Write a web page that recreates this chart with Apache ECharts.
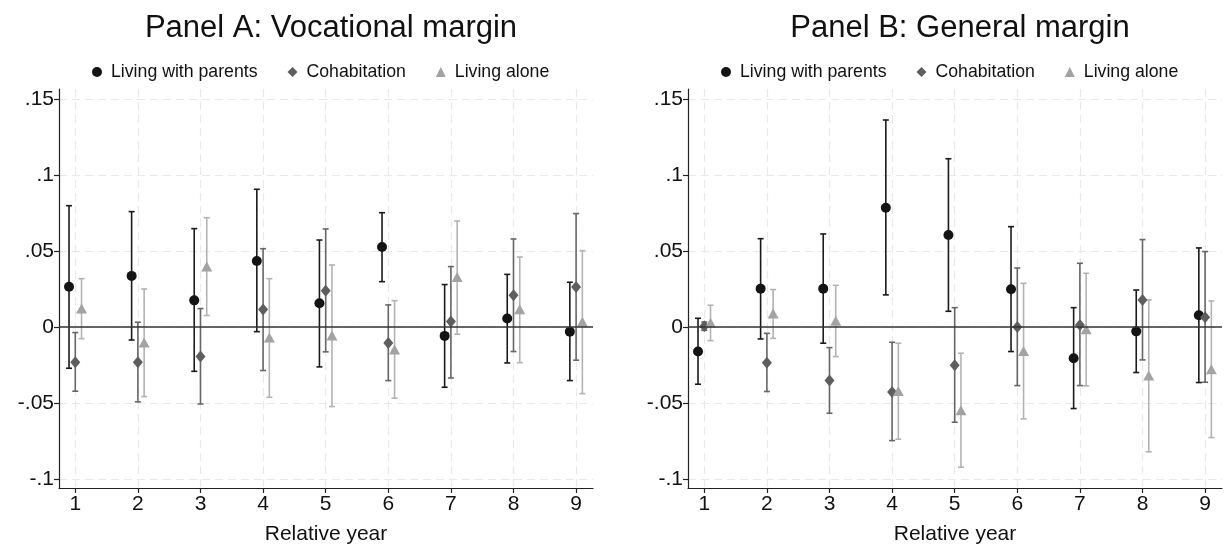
<!DOCTYPE html>
<html>
<head>
<meta charset="utf-8">
<script src="https://cdn.jsdelivr.net/npm/echarts@6/dist/echarts.min.js"></script>
<style>
  html, body { margin: 0; padding: 0; background: #ffffff; }
  #chart { width: 1224px; height: 551px; }
</style>
</head>
<body>
<div id="chart"></div>
<script>
// Event-study estimates with 95% confidence intervals, by living arrangement.
const years = [1, 2, 3, 4, 5, 6, 7, 8, 9];
const groups = ['Living with parents', 'Cohabitation', 'Living alone'];
const panelTitles = ['Panel A: Vocational margin', 'Panel B: General margin'];
const yTicks = [-0.1, -0.05, 0, 0.05, 0.1, 0.15];

// Panel A: vocational margin
const vocParentsEst = [0.0265, 0.0336, 0.0175, 0.0434, 0.0156, 0.0526, -0.0059, 0.0055, -0.0031];
const vocParentsLo  = [-0.0272, -0.0086, -0.0292, -0.0031, -0.0263, 0.0298, -0.0397, -0.0237, -0.0353];
const vocParentsHi  = [0.0798, 0.0759, 0.0647, 0.0906, 0.0572, 0.0752, 0.0279, 0.0346, 0.0294];
const vocCohabEst   = [-0.0232, -0.0232, -0.0195, 0.0114, 0.0239, -0.0105, 0.0035, 0.0208, 0.0263];
const vocCohabLo    = [-0.0423, -0.0493, -0.0507, -0.0287, -0.0164, -0.0353, -0.0336, -0.0162, -0.0219];
const vocCohabHi    = [-0.0037, 0.0031, 0.0121, 0.0515, 0.0645, 0.0145, 0.0397, 0.0579, 0.0746];
const vocAloneEst   = [0.0122, -0.0102, 0.0398, -0.0070, -0.0057, -0.0148, 0.0328, 0.0117, 0.0034];
const vocAloneLo    = [-0.0077, -0.0458, 0.0075, -0.0463, -0.0524, -0.0469, -0.0048, -0.0235, -0.0439];
const vocAloneHi    = [0.0318, 0.0250, 0.0719, 0.0318, 0.0408, 0.0173, 0.0697, 0.0460, 0.0502];

// Panel B: general margin
const genParentsEst = [-0.0162, 0.0252, 0.0252, 0.0785, 0.0605, 0.0248, -0.0206, -0.0029, 0.0077];
const genParentsLo  = [-0.0377, -0.0079, -0.0107, 0.0211, 0.0103, -0.0162, -0.0537, -0.0300, -0.0366];
const genParentsHi  = [0.0057, 0.0581, 0.0612, 0.1362, 0.1107, 0.0660, 0.0127, 0.0243, 0.0520];
const genCohabEst   = [0.0005, -0.0235, -0.0353, -0.0428, -0.0252, -0.0001, 0.0013, 0.0178, 0.0064];
const genCohabLo    = [-0.0022, -0.0425, -0.0568, -0.0748, -0.0627, -0.0386, -0.0386, -0.0217, -0.0364];
const genCohabHi    = [0.0032, -0.0042, -0.0136, -0.0101, 0.0127, 0.0388, 0.0419, 0.0575, 0.0496];
const genAloneEst   = [0.0027, 0.0088, 0.0041, -0.0422, -0.0548, -0.0159, -0.0016, -0.0320, -0.0279];
const genAloneLo    = [-0.0090, -0.0075, -0.0195, -0.0739, -0.0923, -0.0605, -0.0388, -0.0822, -0.0728];
const genAloneHi    = [0.0143, 0.0246, 0.0274, -0.0107, -0.0173, 0.0287, 0.0353, 0.0178, 0.0171];

const panels = [
  [[vocParentsEst, vocParentsLo, vocParentsHi], [vocCohabEst, vocCohabLo, vocCohabHi], [vocAloneEst, vocAloneLo, vocAloneHi]],
  [[genParentsEst, genParentsLo, genParentsHi], [genCohabEst, genCohabLo, genCohabHi], [genAloneEst, genAloneLo, genAloneHi]]
];

// Presentation
const FONT = '"Liberation Sans", Arial, sans-serif';
const dodge = [-0.1, 0, 0.1];
const markerColor = ['#141414', '#5e5e5e', '#a3a3a3'];
const barColor = ['#1a1a1a', '#666666', '#b3b3b3'];
const symbols = ['circle', 'diamond', 'triangle'];
const symbolSizes = [10, [10, 12], [11, 10]];
const gridLeft = [59, 688];
const gridWidth = 534;
const panelCenter = gridLeft.map(l => l + gridWidth / 2);

function fmtY(v) {
  if (Math.abs(v) < 1e-9) return '0';
  const s = String(Math.abs(Number(v.toFixed(4)))).replace(/^0/, '');
  return (v < 0 ? '-' : '') + s;
}

function renderErrorBar(params, api) {
  const x = api.value(0);
  const lo = api.coord([x, api.value(1)]);
  const hi = api.coord([x, api.value(2)]);
  const hw = 3;
  const style = { stroke: api.visual('color'), lineWidth: 1.6 };
  return {
    type: 'group',
    children: [
      { type: 'line', shape: { x1: lo[0], y1: lo[1], x2: hi[0], y2: hi[1] }, style: style },
      { type: 'line', shape: { x1: hi[0] - hw, y1: hi[1], x2: hi[0] + hw, y2: hi[1] }, style: style },
      { type: 'line', shape: { x1: lo[0] - hw, y1: lo[1], x2: lo[0] + hw, y2: lo[1] }, style: style }
    ]
  };
}

const grid = [], xAxis = [], yAxis = [], series = [], title = [], legend = [];

panels.forEach((panel, p) => {
  grid.push({ left: gridLeft[p], top: 89, width: gridWidth, height: 399 });
  title.push({
    text: panelTitles[p], left: panelCenter[p], top: 7, textAlign: 'center',
    textStyle: { fontFamily: FONT, fontSize: 31, fontWeight: 'normal', color: '#111', lineHeight: 32 }
  });
  legend.push({
    left: gridLeft[p] + 28, top: 58,
    itemWidth: 10, itemHeight: 10, itemGap: 30, selectedMode: false,
    textStyle: { fontFamily: FONT, fontSize: 17.7, color: '#111', padding: [0, 0, 0, 4] },
    data: groups.map((g, k) => ({ name: g, icon: symbols[k], itemStyle: { color: markerColor[k] } }))
  });
  xAxis.push({
    type: 'value', gridIndex: p, min: 0.74, max: 9.27,
    name: 'Relative year', nameLocation: 'middle', nameGap: 36,
    nameTextStyle: { fontFamily: FONT, fontSize: 21, color: '#111' },
    axisLine: { onZero: false, lineStyle: { color: '#222', width: 1.2 } },
    axisTick: { show: true, length: 5, customValues: years, lineStyle: { color: '#222', width: 1.2 } },
    axisLabel: { customValues: years, fontFamily: FONT, fontSize: 21, color: '#111', margin: 6 },
    splitLine: { show: true, lineStyle: { color: '#e9e9e9', type: [8, 5], width: 1.2 } }
  });
  yAxis.push({
    type: 'value', gridIndex: p, min: -0.106, max: 0.1566,
    axisLine: { show: true, lineStyle: { color: '#222', width: 1.2 } },
    axisTick: { show: true, length: 5, customValues: yTicks, lineStyle: { color: '#222', width: 1.2 } },
    axisLabel: { customValues: yTicks, fontFamily: FONT, fontSize: 21, color: '#111', margin: 5, formatter: fmtY },
    splitLine: { show: true, lineStyle: { color: '#e9e9e9', type: [8, 5], width: 1.2 } }
  });

  panel.forEach((g, k) => {
    const [est, lo, hi] = g;
    series.push({
      name: groups[k], type: 'custom', xAxisIndex: p, yAxisIndex: p, z: 2,
      itemStyle: { color: barColor[k] }, renderItem: renderErrorBar,
      encode: { x: 0, y: [1, 2] },
      data: years.map((yr, i) => [yr + dodge[k], lo[i], hi[i]])
    });
  });
  panel.forEach((g, k) => {
    const est = g[0];
    const s = {
      name: groups[k], type: 'scatter', xAxisIndex: p, yAxisIndex: p, z: 4,
      symbol: symbols[k], symbolSize: symbolSizes[k],
      itemStyle: { color: markerColor[k], opacity: 1 },
      emphasis: { disabled: true },
      data: years.map((yr, i) => [yr + dodge[k], est[i]])
    };
    if (k === 0) {
      s.markLine = {
        silent: true, symbol: 'none', label: { show: false }, animation: false,
        lineStyle: { color: '#333', width: 1.6, type: 'solid' },
        data: [{ yAxis: 0 }]
      };
    }
    series.push(s);
  });
});

const chart = echarts.init(document.getElementById('chart'), null, { renderer: 'canvas' });
chart.setOption({
  animation: false,
  backgroundColor: '#ffffff',
  title, legend, grid, xAxis, yAxis, series
});
</script>
</body>
</html>
